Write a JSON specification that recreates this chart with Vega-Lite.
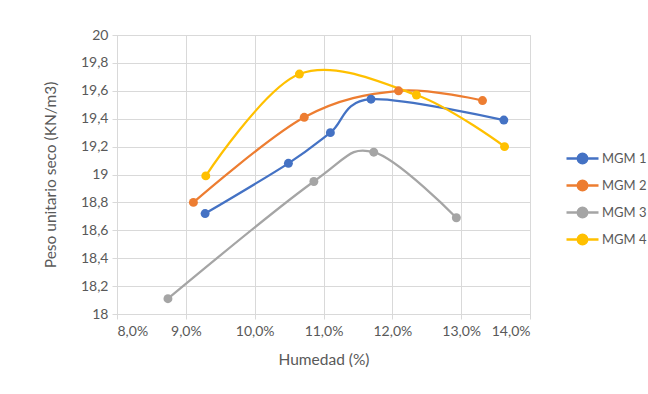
{
  "$schema": "https://vega.github.io/schema/vega-lite/v6.json",
  "width": 413,
  "height": 279,
  "autosize": {"type": "none"},
  "padding": {"left": 117, "top": 35, "right": 118, "bottom": 80},
  "background": "white",
  "data": {"values": [
    {"serie": "MGM 1", "humedad": 9.28, "peso": 18.72},
    {"serie": "MGM 1", "humedad": 10.49, "peso": 19.08},
    {"serie": "MGM 1", "humedad": 11.10, "peso": 19.30},
    {"serie": "MGM 1", "humedad": 11.69, "peso": 19.54},
    {"serie": "MGM 1", "humedad": 13.62, "peso": 19.39},
    {"serie": "MGM 2", "humedad": 9.11, "peso": 18.80},
    {"serie": "MGM 2", "humedad": 10.72, "peso": 19.41},
    {"serie": "MGM 2", "humedad": 12.09, "peso": 19.60},
    {"serie": "MGM 2", "humedad": 13.31, "peso": 19.53},
    {"serie": "MGM 3", "humedad": 8.74, "peso": 18.11},
    {"serie": "MGM 3", "humedad": 10.86, "peso": 18.95},
    {"serie": "MGM 3", "humedad": 11.73, "peso": 19.16},
    {"serie": "MGM 3", "humedad": 12.93, "peso": 18.69},
    {"serie": "MGM 4", "humedad": 9.29, "peso": 18.99},
    {"serie": "MGM 4", "humedad": 10.65, "peso": 19.72},
    {"serie": "MGM 4", "humedad": 12.35, "peso": 19.57},
    {"serie": "MGM 4", "humedad": 13.63, "peso": 19.20}
  ]},
  "encoding": {
    "x": {
      "field": "humedad", "type": "quantitative",
      "scale": {"domain": [8, 14], "nice": false, "zero": false},
      "axis": {
        "title": "Humedad (%)", "values": [8, 9, 10, 11, 12, 13, 14],
        "labelExpr": "replace(format(datum.value, '.1f'), '.', ',') + '%'",
        "labelOverlap": false,
        "labelPadding": 5,
        "titlePadding": 14
      }
    },
    "y": {
      "field": "peso", "type": "quantitative",
      "scale": {"domain": [18, 20], "nice": false, "zero": false},
      "axis": {
        "title": "Peso unitario seco (KN/m3)",
        "values": [18, 18.2, 18.4, 18.6, 18.8, 19, 19.2, 19.4, 19.6, 19.8, 20],
        "labelExpr": "replace(format(datum.value, '.1~f'), '.', ',')",
        "labelOverlap": false,
        "labelPadding": 4,
        "titlePadding": 22
      }
    },
    "color": {
      "field": "serie", "type": "nominal",
      "scale": {"domain": ["MGM 1", "MGM 2", "MGM 3", "MGM 4"], "range": ["#4472C4", "#ED7D31", "#A5A5A5", "#FFC000"]},
      "legend": {
        "title": null,
        "orient": "none",
        "legendX": 454,
        "legendY": 112,
        "symbolType": "M-1.6,0H1.6M-0.47,0A0.47,0.47 0 1,0 0.47,0A0.47,0.47 0 1,0 -0.47,0",
        "symbolSize": 400,
        "symbolStrokeWidth": 2.5,
        "symbolOpacity": 1,
        "labelFontSize": 13,
        "labelColor": "#595959",
        "labelFont": "Lato",
        "labelOffset": 8,
        "rowPadding": 5,
        "padding": 0
      }
    }
  },
  "layer": [
    {"mark": {"type": "line", "interpolate": "cardinal", "strokeWidth": 2.25}},
    {"mark": {"type": "point", "filled": true, "size": 80, "opacity": 1}}
  ],
  "config": {
    "view": {"stroke": "#d9d9d9", "strokeWidth": 1},
    "font": "Lato",
    "axis": {
      "labelFont": "Lato", "titleFont": "Lato",
      "labelFontSize": 14, "titleFontSize": 15.5,
      "labelColor": "#595959", "titleColor": "#595959",
      "titleFontWeight": "normal",
      "gridColor": "#d9d9d9", "domainColor": "#d9d9d9",
      "tickColor": "#d9d9d9", "tickSize": 5
    },
    "legend": {"symbolFillColor": null}
  }
}
